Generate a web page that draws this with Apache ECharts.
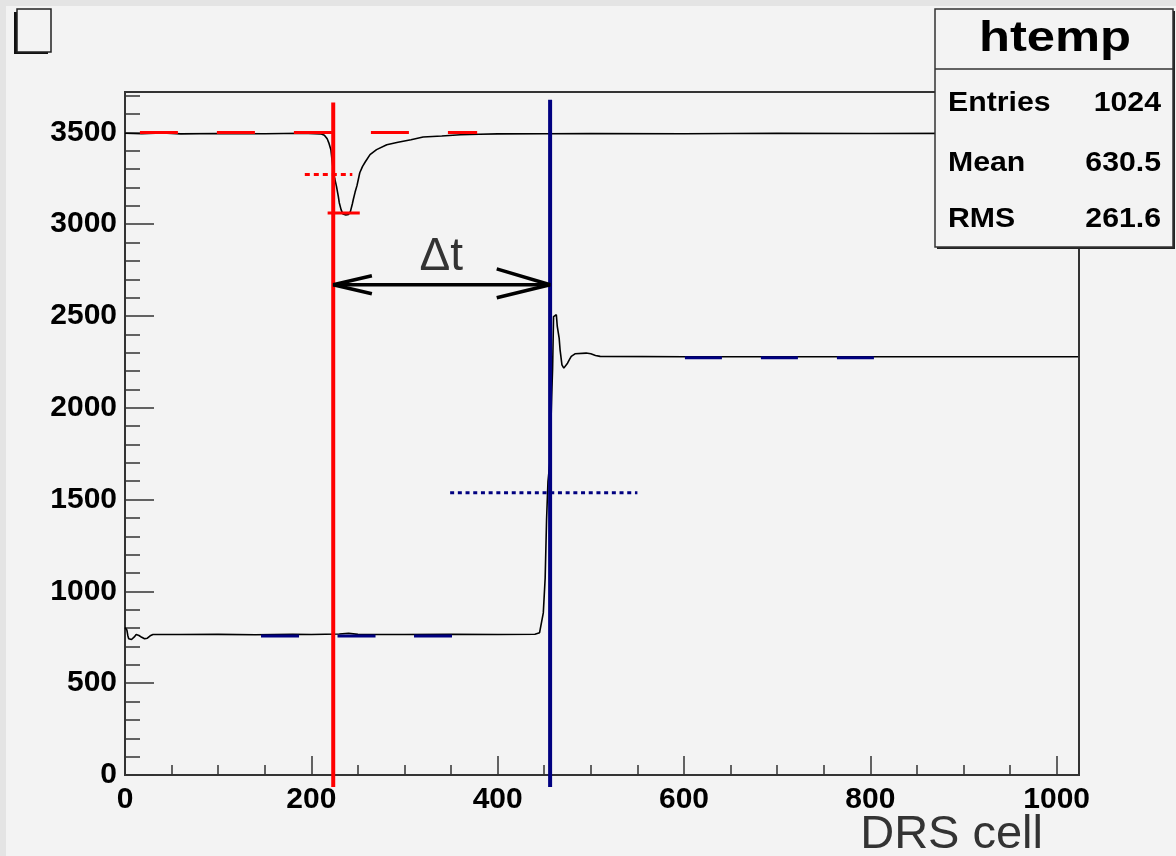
<!DOCTYPE html>
<html>
<head>
    <meta charset="utf-8">
    <title>htemp</title>
    <script src="https://cdn.jsdelivr.net/npm/echarts@6.0.0/dist/echarts.min.js"></script>
    <style>
        html, body { margin: 0; padding: 0; background: #f3f3f3; }
        #main { width: 1176px; height: 856px; }
    </style>
</head>
<body>
<div id="main"></div>
<script type="text/javascript">
    // ---- data: [DRS cell, ADC value] ----
    var pulseTrace = [
        [0, 3495], [18, 3493], [40, 3497], [60, 3492], [100, 3494], [150, 3493], [190, 3495], [210, 3492],
        [214, 3485], [217, 3465], [219, 3440], [221, 3406], [222, 3360], [223.5, 3297], [225, 3250],
        [227, 3206], [229, 3150], [230, 3117], [232, 3078], [234, 3055], [237, 3050], [240, 3053],
        [242, 3070], [244, 3110], [245, 3133], [247, 3175], [249, 3210], [252, 3280], [255, 3315],
        [258, 3340], [263, 3379], [270, 3406], [281, 3433], [293, 3446], [307, 3460], [320, 3475],
        [340, 3480], [360, 3487], [380, 3490], [400, 3492], [450, 3493], [500, 3494], [600, 3493],
        [700, 3495], [800, 3494], [900, 3495], [1000, 3494], [1023, 3495]
    ];
    var stepTrace = [
        [0, 803], [2, 790], [3, 760], [4, 742], [7, 738], [10, 752], [12, 765], [15, 760], [18, 750],
        [21, 742], [24, 745], [27, 758], [30, 765], [60, 765], [100, 766], [140, 764], [180, 767],
        [200, 765], [230, 768], [240, 772], [250, 766], [300, 765], [350, 766], [400, 765], [440, 767],
        [445, 775], [447, 781], [449, 883], [450, 890], [451, 1073], [452, 1080], [452.5, 1390],
        [453.5, 1400], [454, 1598], [456, 1700], [458, 2062], [459, 2218], [460, 2497], [461, 2507],
        [463, 2507], [464, 2443], [466, 2380], [467, 2316], [469, 2234], [471, 2216], [473, 2220],
        [475, 2243], [477, 2262], [479, 2280], [483, 2294], [495, 2298], [500, 2294], [505, 2285],
        [510, 2280], [600, 2278], [800, 2278], [1023, 2278]
    ];

    // ---- markers (red: pulse, blue: step) ----
    var redBase = [[16, 3500], [378, 3500]];
    var redHalf = [[193, 3270], [244, 3270]];
    var redMin = [[217.5, 3061], [252, 3061]];
    var redCut = [[223.5, -65], [223.5, 3663]];
    var blueLow = [[146, 757], [351, 757]];
    var blueHigh = [[601, 2272], [805, 2272]];
    var blueHalf = [[349, 1537], [550, 1537]];
    var blueCut = [[456.3, -65], [456.3, 3678]];
    var arrowShaft = [[223.5, 2670], [456.3, 2670]];
    var arrowLeft = [[265, 2719], [223.5, 2670], [265, 2621]];
    var arrowRight = [[399, 2757], [456.3, 2670], [399, 2599]];
    var deltaLabel = [339.5, 2817];

    // ---- axes / stats ----
    var xMax = 1024, xMajor = 200, xMinor = 50;
    var yMax = 3720, yMajor = 500, yMinor = 100;
    var statNames = ['Entries', 'Mean', 'RMS'];
    var statValues = ['1024', '630.5', '261.6'];

    var FONT = 'Liberation Sans, Arial, Helvetica, sans-serif';
    var AXIS = '#333';

    function seg(data, color, width, type, z) {
        return {
            type: 'line', data: data, symbol: 'none', silent: true, clip: false, z: z || 3,
            lineStyle: { color: color, width: width, type: type || 'solid', cap: 'butt' }
        };
    }

    var myChart = echarts.init(document.getElementById('main'));

    var statsGraphic = [];
    statNames.forEach(function (n, i) {
        var y = [103, 163, 219][i];
        statsGraphic.push({
            type: 'text', x: 948, y: y, scaleX: 1.08, z: 110,
            style: { text: n, fontFamily: FONT, fontWeight: 'bold', fontSize: 28, fill: '#000', align: 'left', verticalAlign: 'middle' }
        });
        statsGraphic.push({
            type: 'text', x: 1161, y: y, scaleX: 1.08, z: 110,
            style: { text: statValues[i], fontFamily: FONT, fontWeight: 'bold', fontSize: 28, fill: '#000', align: 'right', verticalAlign: 'middle' }
        });
    });

    myChart.setOption({
        backgroundColor: '#f3f3f3',
        animation: false,
        grid: {
            left: 125, right: 97, top: 92, bottom: 81,
            show: true, borderColor: AXIS, borderWidth: 2, backgroundColor: 'transparent',
            containLabel: false, outerBoundsMode: 'none'
        },
        xAxis: [
            {
                type: 'value', min: 0, max: xMax, interval: xMajor, position: 'bottom',
                axisLine: { show: true, onZero: false, lineStyle: { color: AXIS, width: 2 } },
                axisTick: { show: true, inside: true, length: 19, lineStyle: { color: AXIS, width: 1.5 } },
                axisLabel: {
                    margin: 10, color: '#000', fontSize: 30, fontWeight: 'bold', fontFamily: FONT,
                    formatter: function (v) { return v % xMajor === 0 ? String(v) : ''; }
                },
                splitLine: { show: false }
            },
            {
                type: 'value', min: 0, max: xMax, interval: xMinor, position: 'bottom',
                axisLine: { show: false },
                axisTick: { show: true, inside: true, length: 10, lineStyle: { color: AXIS, width: 1.5 } },
                axisLabel: { show: false },
                splitLine: { show: false }
            }
        ],
        yAxis: [
            {
                type: 'value', min: 0, max: yMax, interval: yMajor, position: 'left',
                axisLine: { show: true, onZero: false, lineStyle: { color: AXIS, width: 2 } },
                axisTick: { show: true, inside: true, length: 29, lineStyle: { color: AXIS, width: 1.5 } },
                axisLabel: {
                    margin: 8, color: '#000', fontSize: 30, fontWeight: 'bold', fontFamily: FONT,
                    formatter: function (v) { return v % yMajor === 0 ? String(v) : ''; }
                },
                splitLine: { show: false }
            },
            {
                type: 'value', min: 0, max: yMax, interval: yMinor, position: 'left',
                axisLine: { show: false },
                axisTick: { show: true, inside: true, length: 15, lineStyle: { color: AXIS, width: 1.5 } },
                axisLabel: { show: false },
                splitLine: { show: false }
            }
        ],
        series: [
            seg(pulseTrace, '#000', 1.6, 'solid', 2),
            seg(stepTrace, '#000', 1.6, 'solid', 2),
            seg(redBase, '#ff0000', 3, [38, 39]),
            seg(redHalf, '#ff0000', 3, [5, 4]),
            seg(redMin, '#ff0000', 3),
            seg(redCut, '#ff0000', 4),
            seg(blueLow, '#000080', 3, [38, 38.5]),
            seg(blueHigh, '#000080', 3, [37, 39]),
            seg(blueHalf, '#000080', 3, [4, 3.7]),
            seg(blueCut, '#000080', 4),
            seg(arrowLeft, '#000', 3.5),
            seg(arrowRight, '#000', 3.5),
            Object.assign(seg(arrowShaft, '#000', 3.5), {
                markPoint: {
                    symbol: 'circle', symbolSize: 0, silent: true,
                    data: [{ coord: deltaLabel }],
                    label: { show: true, position: 'inside', formatter: 'Δt', fontSize: 46, fontFamily: FONT, color: '#333' }
                }
            })
        ],
        graphic: [
            { type: 'rect', shape: { x: 0, y: 0, width: 1176, height: 6 }, style: { fill: '#e4e4e4' }, z: 100 },
            { type: 'rect', shape: { x: 0, y: 0, width: 6, height: 856 }, style: { fill: '#e4e4e4' }, z: 100 },
            // empty title box, top left
            { type: 'rect', shape: { x: 14, y: 12, width: 34, height: 42 }, style: { fill: '#111' }, z: 100 },
            { type: 'rect', shape: { x: 17, y: 9, width: 34, height: 43 }, style: { fill: '#f3f3f3', stroke: '#222', lineWidth: 1.5 }, z: 101 },
            // stats box
            { type: 'rect', shape: { x: 937, y: 11, width: 238, height: 238 }, style: { fill: '#222' }, z: 105 },
            { type: 'rect', shape: { x: 935, y: 9, width: 238, height: 238 }, style: { fill: '#f3f3f3', stroke: '#333', lineWidth: 1.5 }, z: 106 },
            { type: 'line', shape: { x1: 935, y1: 69, x2: 1173, y2: 69 }, style: { stroke: '#333', lineWidth: 1.5 }, z: 107 },
            {
                type: 'text', x: 1055, y: 39, scaleX: 1.18, z: 110,
                style: { text: 'htemp', fontFamily: FONT, fontWeight: 'bold', fontSize: 43, fill: '#000', align: 'center', verticalAlign: 'middle' }
            }
        ].concat(statsGraphic).concat([
            {
                type: 'text', x: 1043, y: 835, z: 110,
                style: { text: 'DRS cell', fontFamily: FONT, fontSize: 47, fill: '#333', align: 'right', verticalAlign: 'middle' }
            }
        ])
    });
</script>
</body>
</html>
